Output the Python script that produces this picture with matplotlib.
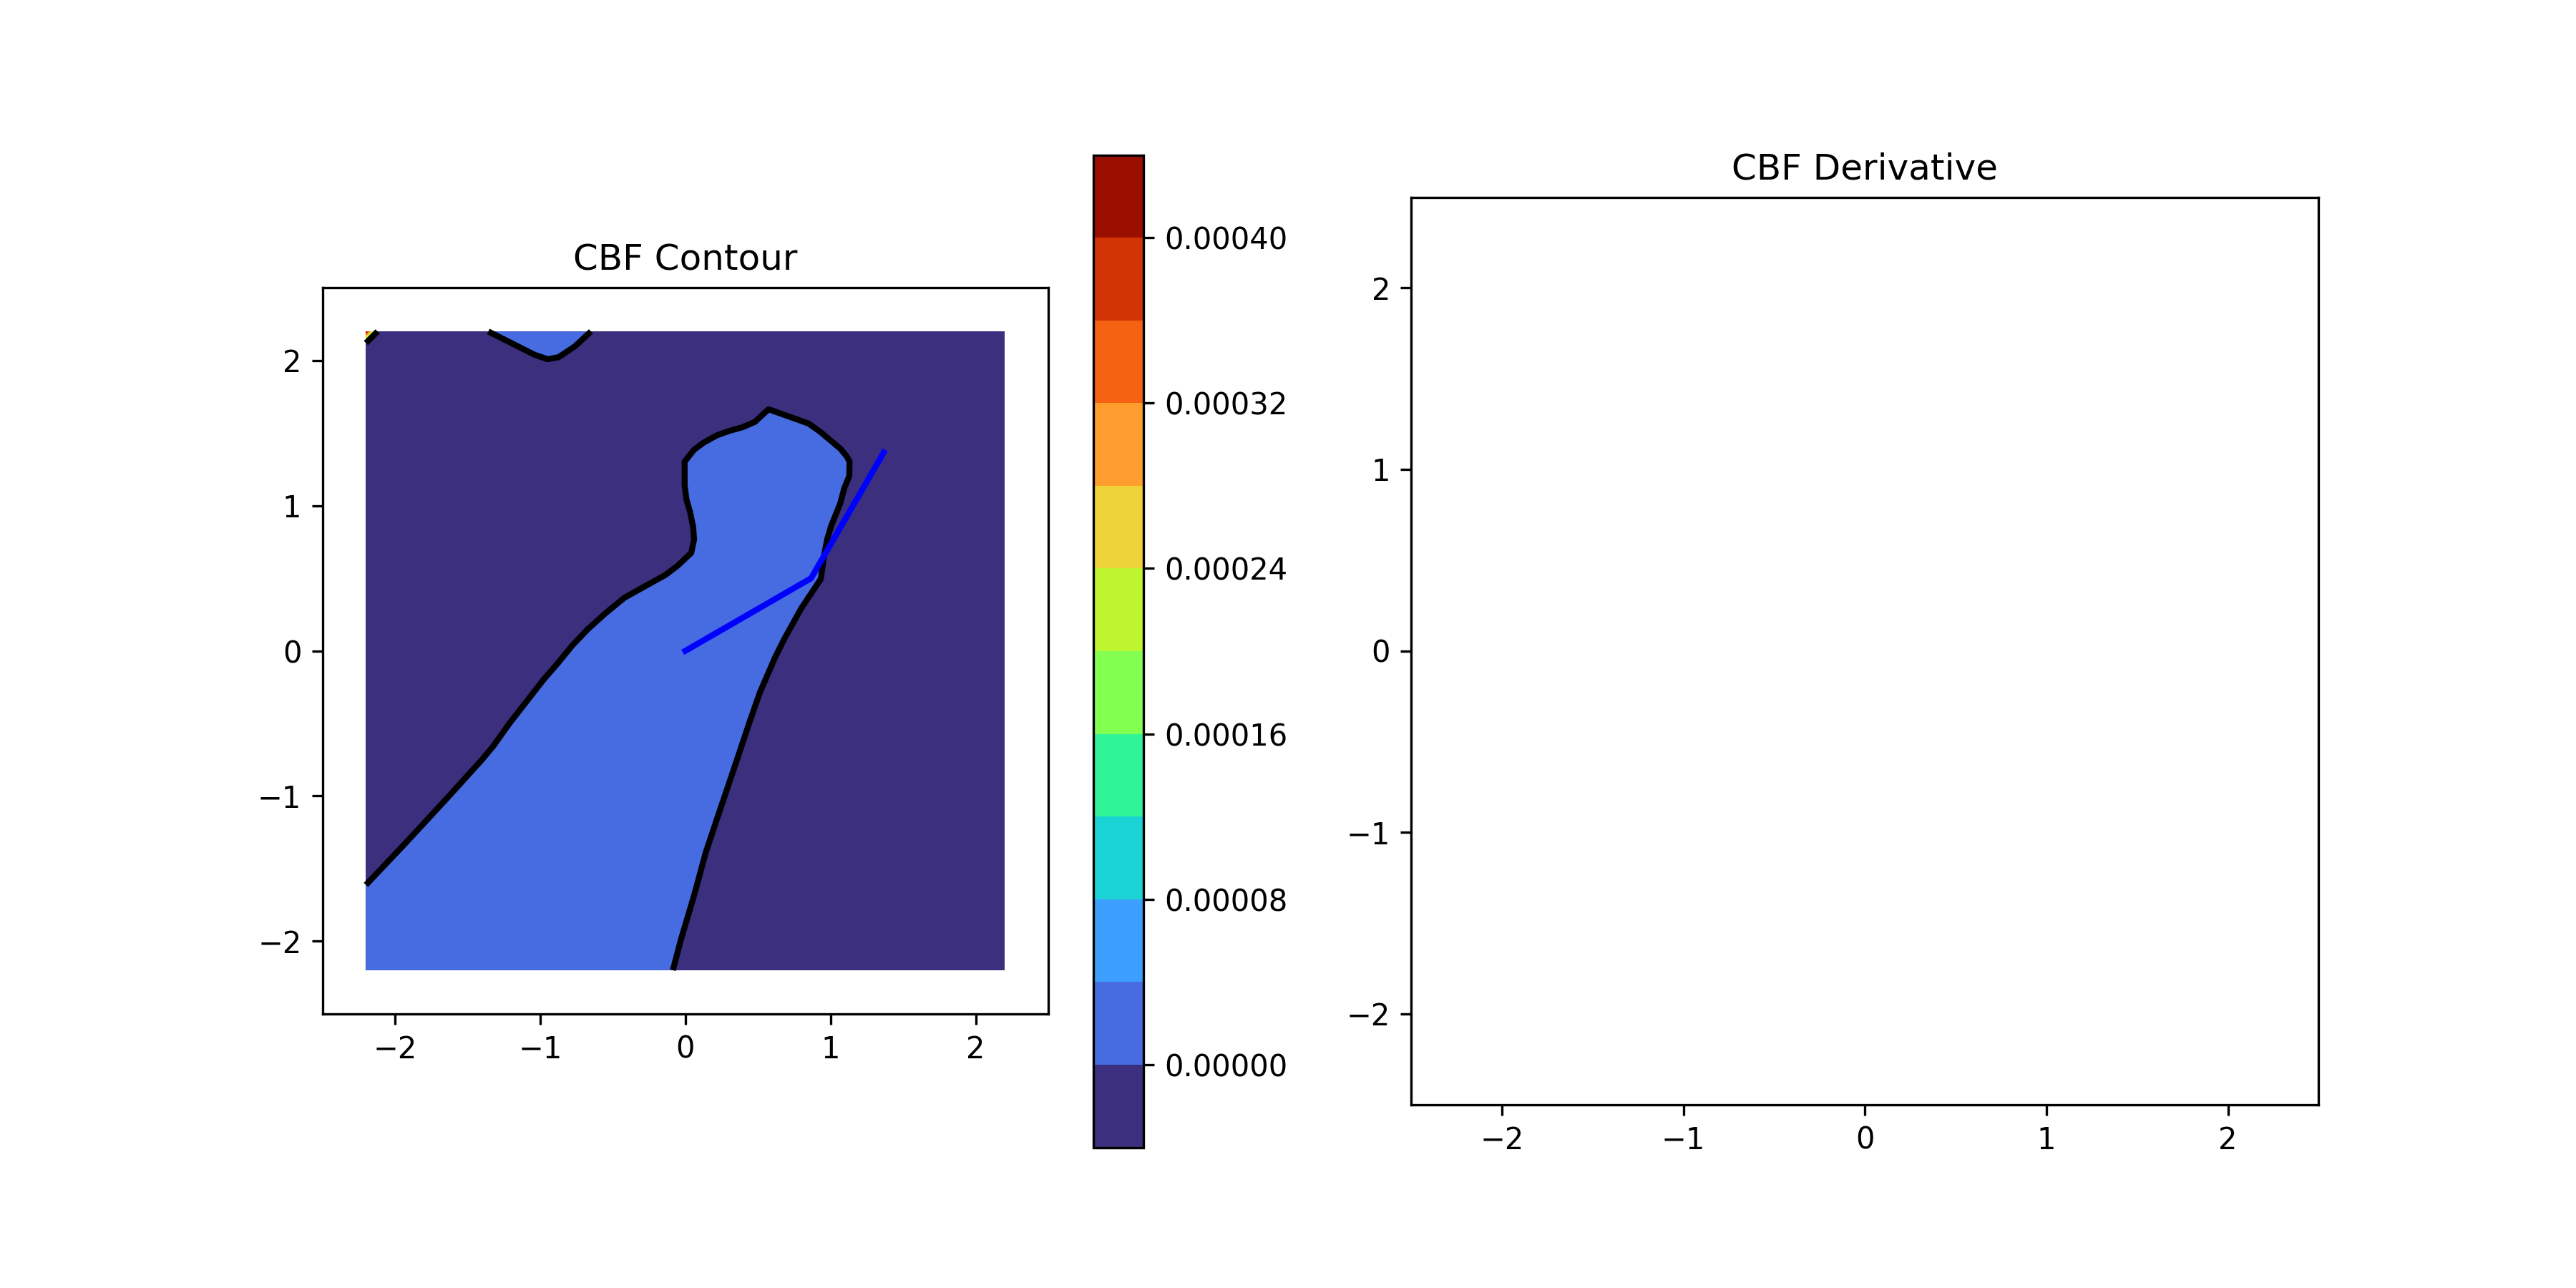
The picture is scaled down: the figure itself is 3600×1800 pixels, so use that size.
"""
Control barrier function contour for a two link arm, with an empty derivative panel.
Boundary vertices were read off the reference picture.
"""

import numpy as np
import matplotlib
matplotlib.use('Agg')
import matplotlib.pyplot as plt

# contour levels and the colour of each band
levels = [-0.00004, 0.0, 0.00004, 0.00008, 0.00012, 0.00016, 0.00020,
          0.00024, 0.00028, 0.00032, 0.00036, 0.00040, 0.00044]
band_colors = ['#3b2f7e', '#476be0', '#3c9fff', '#1bd3d5', '#2ff598', '#82ff50',
               '#bdf52f', '#eed23a', '#ff9d2e', '#f56212', '#d33405', '#9a0f00']
cbar_ticks = [0.0, 0.00008, 0.00016, 0.00024, 0.00032, 0.00040]
axis_ticks = [-2, -1, 0, 1, 2]

# extent of the evaluated field
field_x = [-2.2, 2.2, 2.2, -2.2]
field_y = [-2.2, -2.2, 2.2, 2.2]

# zero level set, large lobe
lobe_x = [-2.2, -1.927, -1.647, -1.401, -1.319, -1.214, -1.074, -0.975, -0.885, -0.778,
          -0.672, -0.549, -0.418, -0.137, -0.055, 0.040, 0.060, 0.054, 0.032, 0.008,
          -0.005, -0.005, 0.060, 0.126, 0.216, 0.306, 0.396, 0.479, 0.573, 0.848,
          0.930, 1.070, 1.111, 1.131, 1.129, 1.095, 1.067, 1.004, 0.977, 0.955,
          0.933, 0.799, 0.684, 0.618, 0.512, 0.446, 0.339, 0.224, 0.142, 0.060,
          -0.030, -0.086]
lobe_y = [-1.612, -1.324, -1.021, -0.750, -0.651, -0.503, -0.323, -0.196, -0.093, 0.038,
          0.149, 0.260, 0.367, 0.523, 0.585, 0.674, 0.766, 0.851, 0.958, 1.040,
          1.139, 1.303, 1.385, 1.434, 1.484, 1.516, 1.541, 1.577, 1.664, 1.566,
          1.508, 1.390, 1.340, 1.303, 1.204, 1.122, 1.016, 0.860, 0.769, 0.654,
          0.495, 0.294, 0.087, -0.045, -0.290, -0.479, -0.799, -1.139, -1.384, -1.685,
          -1.987, -2.2]

# zero level set, small lobe at the top edge
top_x = [-1.357, -1.04, -0.95, -0.874, -0.76, -0.65]
top_y = [2.2, 2.04, 2.009, 2.022, 2.098, 2.2]

# small patch at the top left corner where the field shoots up
corner_x = [-2.2, -2.12]
corner_y = [2.12, 2.2]
corner_z = [[0.0, -0.00040],
            [0.00044, 0.0]]

# arm links
arm_x = [0.0, 0.866, 1.366]
arm_y = [0.0, 0.5, 1.366]

fig = plt.figure(figsize=(12, 6), dpi=300)
ax1 = fig.add_axes([450.3 / 3600, 1 - 1416.8 / 1800, 1015 / 3600, 1014.5 / 1800])
cax = fig.add_axes([1528 / 3600, 1 - 1603.5 / 1800, 70 / 3600, 1387 / 1800])
ax2 = fig.add_axes([1972.3 / 3600, 1 - 1543.5 / 1800, 1268 / 3600, 1268 / 1800])

ax1.fill(field_x, field_y, color=band_colors[0], linewidth=0)
ax1.fill(lobe_x + [-2.2], lobe_y + [-2.2], color=band_colors[1], linewidth=0)
ax1.fill(top_x, top_y, color=band_colors[1], linewidth=0)

cs = ax1.contourf(corner_x, corner_y, np.array(corner_z), levels=levels, colors=band_colors)
ax1.contour(corner_x, corner_y, np.array(corner_z), levels=[0.0], colors='black', linewidths=2)

ax1.plot(lobe_x, lobe_y, color='black', linewidth=2, solid_capstyle='butt')
ax1.plot(top_x, top_y, color='black', linewidth=2, solid_capstyle='butt')
ax1.plot(arm_x, arm_y, color='blue', linewidth=2)

for ax in (ax1, ax2):
    ax.set_xlim(-2.5, 2.5)
    ax.set_ylim(-2.5, 2.5)
    ax.set_xticks(axis_ticks)
    ax.set_yticks(axis_ticks)
    ax.set_aspect('equal')

ax1.set_title('CBF Contour')
ax2.set_title('CBF Derivative')

fig.colorbar(cs, cax=cax, ticks=cbar_ticks, format='%.5f')

plt.savefig('out.png', dpi=300)
